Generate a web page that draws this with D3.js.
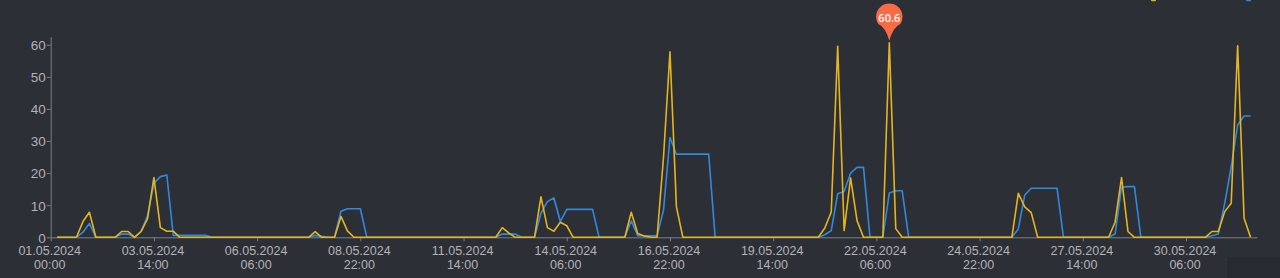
<!DOCTYPE html>
<html lang="en">
<head>
  <meta charset="UTF-8" />
  <title>Values per 4h, May 2024</title>
  <script src="https://d3js.org/d3.v7.min.js"></script>
  <style>
    body {
      margin: 0;
      padding: 0;
      background-color: #2c2f36;
      overflow: hidden;
    }
    svg {
      display: block;
      font-family: "Open Sans", "Noto Sans", sans-serif;
    }
    .axis path, .axis line {
      stroke: #7c7f87;
    }
    .axis text {
      fill: #b2b3b6;
      font-size: 12.5px;
    }
    .y-axis text {
      font-size: 13.5px;
    }
    .series {
      fill: none;
      stroke-width: 1.6px;
      stroke-linejoin: round;
    }
  </style>
</head>
<body>
  <svg id="chart" width="1280" height="278"></svg>

  <script>
    // x-axis labels, one every 16 points
    const tickLabels = [
      ["01.05.2024", "00:00"], ["03.05.2024", "14:00"], ["06.05.2024", "06:00"],
      ["08.05.2024", "22:00"], ["11.05.2024", "14:00"], ["14.05.2024", "06:00"],
      ["16.05.2024", "22:00"], ["19.05.2024", "14:00"], ["22.05.2024", "06:00"],
      ["24.05.2024", "22:00"], ["27.05.2024", "14:00"], ["30.05.2024", "06:00"]
    ];
    const labelEvery = 16;
    const yTicks = [0, 10, 20, 30, 40, 50, 60];

    // yellow series (188 points, first and last empty)
    const seriesYellow = [
      null, 0, 0, 0, 0, 4.9, 7.8, 0, 0, 0, 0, 1.8, 1.8, 0, 1.8, 5.7,
      18.6, 3.0, 1.9, 1.9, 0, 0, 0, 0, 0, 0, 0, 0, 0, 0, 0, 0,
      0, 0, 0, 0, 0, 0, 0, 0, 0, 1.75, 0, 0, 0, 6.5, 2.0, 0,
      0, 0, 0, 0, 0, 0, 0, 0, 0, 0, 0, 0, 0, 0, 0, 0,
      0, 0, 0, 0, 0, 0, 3.0, 1.4, 0, 0, 0, 0, 12.6, 3.0, 1.9, 4.7,
      3.6, 0, 0, 0, 0, 0, 0, 0, 0, 0, 7.8, 1.2, 0.4, 0, 0, 25.0,
      57.8, 9.5, 0, 0, 0, 0, 0, 0, 0, 0, 0, 0, 0, 0, 0, 0,
      0, 0, 0, 0, 0, 0, 0, 0, 2.9, 7.9, 59.5, 2.1, 18.5, 5.2, 0, 0,
      0, 0, 60.6, 2.7, 0, 0, 0, 0, 0, 0, 0, 0, 0, 0, 0, 0,
      0, 0, 0, 0, 0, 0, 13.7, 9.5, 7.7, 0, 0, 0, 0, 0, 0, 0,
      0, 0, 0, 0, 0, 4.7, 18.6, 1.8, 0, 0, 0, 0, 0, 0, 0, 0,
      0, 0, 0, 0, 1.8, 1.8, 8.0, 10.6, 59.7, 5.9, 0, null
    ];

    // blue series
    const seriesBlue = [
      null, 0, 0, 0, 0, 1.6, 4.3, 0, 0, 0, 0, 1.0, 1.0, 0, 1.8, 6.6,
      16.8, 18.9, 19.4, 0.6, 0.6, 0.6, 0.6, 0.6, 0.6, 0, 0, 0, 0, 0, 0, 0,
      0, 0, 0, 0, 0, 0, 0, 0, 0, 0.6, 0.3, 0, 0, 8.1, 8.9, 8.9,
      8.9, 0, 0, 0, 0, 0, 0, 0, 0, 0, 0, 0, 0, 0, 0, 0,
      0, 0, 0, 0, 0, 0, 1.0, 1.0, 1.0, 0, 0, 0, 7.5, 11.1, 12.3, 4.9,
      8.7, 8.7, 8.7, 8.7, 8.7, 0, 0, 0, 0, 0, 5.1, 0.5, 0.5, 0.5, 0.5, 8.5,
      31.1, 25.9, 25.9, 25.9, 25.9, 25.9, 25.9, 0, 0, 0, 0, 0, 0, 0, 0, 0,
      0, 0, 0, 0, 0, 0, 0, 0, 0.8, 2.1, 13.6, 14.3, 20.0, 21.8, 21.8, 0,
      0, 0, 13.8, 14.5, 14.5, 0, 0, 0, 0, 0, 0, 0, 0, 0, 0, 0,
      0, 0, 0, 0, 0, 0, 2.6, 13.2, 15.3, 15.3, 15.3, 15.3, 15.3, 0, 0, 0,
      0, 0, 0, 0, 0, 1.0, 15.6, 15.8, 15.8, 0, 0, 0, 0, 0, 0, 0,
      0, 0, 0, 0, 0.5, 1.0, 10.6, 22.0, 35.0, 37.8, 37.8, null
    ];

    const colorYellow = "#e5b520";
    const colorBlue = "#3189dc";
    const pinColor = "#fa6a45";

    const svg = d3.select("#chart");

    // slightly darker patch in the bottom right corner
    svg.append("rect")
      .attr("x", 1227).attr("y", 257)
      .attr("width", 53).attr("height", 21)
      .attr("fill", "#272a30");

    // clipped legend markers peeking in at the top edge
    svg.append("rect").attr("x", 1151).attr("y", -2).attr("width", 5).attr("height", 3.2)
      .attr("rx", 1).attr("fill", colorYellow);
    svg.append("rect").attr("x", 1246).attr("y", -2).attr("width", 5).attr("height", 3.2)
      .attr("rx", 1).attr("fill", colorBlue);

    const x = d3.scaleLinear()
      .domain([0, seriesYellow.length - 1])
      .range([50.7, 1257]);

    const y = d3.scaleLinear()
      .domain([0, 62.5])
      .range([237.3, 36.7]);

    // y axis
    const yAxis = svg.append("g")
      .attr("class", "axis y-axis")
      .attr("transform", "translate(50.7,0)")
      .call(d3.axisLeft(y).tickValues(yTicks).tickSize(4).tickSizeOuter(0).tickPadding(1));
    yAxis.selectAll("text").attr("dy", "0.36em");

    // x axis, two-line labels
    const tickIdx = tickLabels.map((_, k) => k * labelEvery);
    const xAxis = svg.append("g")
      .attr("class", "axis")
      .attr("transform", "translate(0,237.3)")
      .call(d3.axisBottom(x).tickValues(tickIdx).tickSize(4).tickSizeOuter(0).tickFormat(""));

    xAxis.selectAll(".tick").each(function (d, k) {
      const t = d3.select(this).select("text")
        .attr("y", 0).attr("dy", null);
      t.selectAll("tspan")
        .data(tickLabels[k])
        .enter()
        .append("tspan")
        .attr("x", -1.5)
        .attr("y", (s, j) => 18 + j * 13.6)
        .text(s => s);
    });

    // lines
    const line = d3.line()
      .defined(d => d != null)
      .x((d, i) => x(i))
      .y(d => y(d));

    svg.append("path")
      .attr("class", "series")
      .attr("stroke", colorBlue)
      .attr("d", line(seriesBlue));

    svg.append("path")
      .attr("class", "series")
      .attr("stroke", colorYellow)
      .attr("d", line(seriesYellow));

    // max marker (pin) on the yellow series
    const maxVal = d3.max(seriesYellow);
    const maxIdx = seriesYellow.indexOf(maxVal);
    const px = x(maxIdx);
    const tipY = y(maxVal) - 2;
    const r = 13.2;
    const cy = tipY - 24;
    const ang = Math.acos(r / (tipY - cy));
    const sx = r * Math.sin(ang), sy = r * Math.cos(ang);
    const pinPath =
      `M${px},${tipY}` +
      `Q${px - sx * 0.35},${cy + sy + 3} ${px - sx},${cy + sy}` +
      `A${r},${r} 0 1 1 ${px + sx},${cy + sy}` +
      `Q${px + sx * 0.35},${cy + sy + 3} ${px},${tipY}Z`;

    svg.append("path")
      .attr("d", pinPath)
      .attr("fill", pinColor);

    svg.append("text")
      .attr("x", px)
      .attr("y", cy + 1)
      .attr("dy", "0.35em")
      .attr("text-anchor", "middle")
      .attr("fill", "#fff")
      .attr("font-size", "11px")
      .attr("font-weight", "600")
      .text(maxVal.toFixed(1));
  </script>
</body>
</html>
